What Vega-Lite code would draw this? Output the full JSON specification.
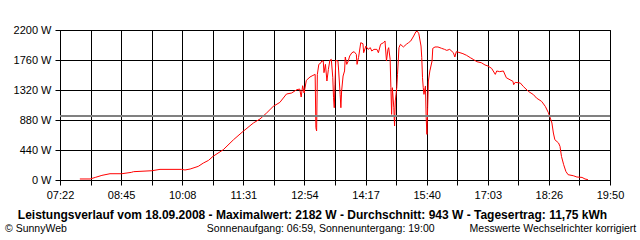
{
  "$schema": "https://vega.github.io/schema/vega-lite/v6.json",
  "width": 550,
  "height": 150,
  "autosize": "none",
  "padding": {"left": 60, "top": 30, "right": 30, "bottom": 60},
  "background": "white",
  "config": {
    "view": {"stroke": "black", "strokeWidth": 1},
    "font": "Liberation Sans",
    "axis": {
      "labelFont": "Liberation Sans",
      "labelFontSize": 11,
      "labelColor": "black",
      "gridColor": "black",
      "gridOpacity": 1,
      "gridWidth": 1,
      "domainColor": "black",
      "tickColor": "black",
      "tickSize": 5,
      "labelFlush": false,
      "labelBound": false,
      "labelOverlap": false
    }
  },
  "title": {
    "text": "© SunnyWeb\u00a0\u00a0\u00a0\u00a0\u00a0\u00a0\u00a0\u00a0\u00a0\u00a0\u00a0\u00a0\u00a0\u00a0\u00a0\u00a0\u00a0\u00a0\u00a0\u00a0\u00a0\u00a0\u00a0\u00a0\u00a0\u00a0\u00a0\u00a0\u00a0\u00a0\u00a0\u00a0\u00a0\u00a0\u00a0\u00a0\u00a0\u00a0\u00a0\u00a0\u00a0\u00a0\u00a0\u00a0\u00a0\u00a0\u00a0\u00a0Sonnenaufgang: 06:59, Sonnenuntergang: 19:00\u00a0\u00a0\u00a0\u00a0\u00a0\u00a0\u00a0\u00a0\u00a0\u00a0\u00a0\u00a0Messwerte Wechselrichter korrigiert",
    "orient": "bottom",
    "anchor": "start",
    "frame": "group",
    "dx": -55,
    "offset": 4,
    "font": "Liberation Sans",
    "fontSize": 10.5,
    "fontWeight": "normal",
    "color": "black"
  },
  "data": {
    "values": [
      {"t": "2008-09-18T07:49", "w": 15},
      {"t": "2008-09-18T08:03", "w": 15},
      {"t": "2008-09-18T08:10", "w": 38},
      {"t": "2008-09-18T08:19", "w": 68},
      {"t": "2008-09-18T08:30", "w": 92},
      {"t": "2008-09-18T08:46", "w": 92},
      {"t": "2008-09-18T08:59", "w": 112},
      {"t": "2008-09-18T09:02", "w": 122},
      {"t": "2008-09-18T09:27", "w": 136},
      {"t": "2008-09-18T09:38", "w": 156},
      {"t": "2008-09-18T10:07", "w": 156},
      {"t": "2008-09-18T10:12", "w": 147},
      {"t": "2008-09-18T10:19", "w": 161},
      {"t": "2008-09-18T10:30", "w": 200},
      {"t": "2008-09-18T10:37", "w": 249},
      {"t": "2008-09-18T10:44", "w": 288},
      {"t": "2008-09-18T10:50", "w": 346},
      {"t": "2008-09-18T11:04", "w": 444},
      {"t": "2008-09-18T11:18", "w": 591},
      {"t": "2008-09-18T11:31", "w": 713},
      {"t": "2008-09-18T11:45", "w": 836},
      {"t": "2008-09-18T11:54", "w": 895},
      {"t": "2008-09-18T12:03", "w": 983},
      {"t": "2008-09-18T12:12", "w": 1080},
      {"t": "2008-09-18T12:21", "w": 1138},
      {"t": "2008-09-18T12:30", "w": 1261},
      {"t": "2008-09-18T12:37", "w": 1276},
      {"t": "2008-09-18T12:44", "w": 1324},
      {"t": "2008-09-18T12:48", "w": 1334},
      {"t": "2008-09-18T12:50", "w": 1217},
      {"t": "2008-09-18T12:52", "w": 1383},
      {"t": "2008-09-18T12:54", "w": 1276},
      {"t": "2008-09-18T12:57", "w": 1461},
      {"t": "2008-09-18T13:02", "w": 1511},
      {"t": "2008-09-18T13:06", "w": 1534},
      {"t": "2008-09-18T13:09", "w": 1549},
      {"t": "2008-09-18T13:10", "w": 767},
      {"t": "2008-09-18T13:11", "w": 719},
      {"t": "2008-09-18T13:12", "w": 1549},
      {"t": "2008-09-18T13:14", "w": 1696},
      {"t": "2008-09-18T13:17", "w": 1720},
      {"t": "2008-09-18T13:18", "w": 1745},
      {"t": "2008-09-18T13:20", "w": 1745},
      {"t": "2008-09-18T13:21", "w": 1574},
      {"t": "2008-09-18T13:23", "w": 1696},
      {"t": "2008-09-18T13:25", "w": 1452},
      {"t": "2008-09-18T13:27", "w": 1622},
      {"t": "2008-09-18T13:29", "w": 1755},
      {"t": "2008-09-18T13:31", "w": 1769},
      {"t": "2008-09-18T13:33", "w": 1500},
      {"t": "2008-09-18T13:34", "w": 1207},
      {"t": "2008-09-18T13:35", "w": 1060},
      {"t": "2008-09-18T13:36", "w": 1402},
      {"t": "2008-09-18T13:37", "w": 1755},
      {"t": "2008-09-18T13:40", "w": 1745},
      {"t": "2008-09-18T13:41", "w": 1599},
      {"t": "2008-09-18T13:43", "w": 1256},
      {"t": "2008-09-18T13:44", "w": 1060},
      {"t": "2008-09-18T13:45", "w": 1305},
      {"t": "2008-09-18T13:47", "w": 1525},
      {"t": "2008-09-18T13:49", "w": 1599},
      {"t": "2008-09-18T13:50", "w": 1804},
      {"t": "2008-09-18T13:52", "w": 1696},
      {"t": "2008-09-18T13:54", "w": 1745},
      {"t": "2008-09-18T13:56", "w": 1819},
      {"t": "2008-09-18T13:59", "w": 1867},
      {"t": "2008-09-18T14:02", "w": 1882},
      {"t": "2008-09-18T14:05", "w": 1843},
      {"t": "2008-09-18T14:06", "w": 1696},
      {"t": "2008-09-18T14:08", "w": 1794},
      {"t": "2008-09-18T14:11", "w": 2014},
      {"t": "2008-09-18T14:14", "w": 1999},
      {"t": "2008-09-18T14:15", "w": 1867},
      {"t": "2008-09-18T14:18", "w": 1965},
      {"t": "2008-09-18T14:21", "w": 1916},
      {"t": "2008-09-18T14:24", "w": 1941},
      {"t": "2008-09-18T14:26", "w": 1892},
      {"t": "2008-09-18T14:29", "w": 1916},
      {"t": "2008-09-18T14:33", "w": 1916},
      {"t": "2008-09-18T14:35", "w": 1867},
      {"t": "2008-09-18T14:38", "w": 1990},
      {"t": "2008-09-18T14:42", "w": 2014},
      {"t": "2008-09-18T14:44", "w": 2039},
      {"t": "2008-09-18T14:46", "w": 1745},
      {"t": "2008-09-18T14:48", "w": 1916},
      {"t": "2008-09-18T14:49", "w": 1941},
      {"t": "2008-09-18T14:51", "w": 1769},
      {"t": "2008-09-18T14:52", "w": 1354},
      {"t": "2008-09-18T14:53", "w": 962},
      {"t": "2008-09-18T14:54", "w": 1354},
      {"t": "2008-09-18T14:56", "w": 1060},
      {"t": "2008-09-18T14:57", "w": 792},
      {"t": "2008-09-18T14:58", "w": 1159},
      {"t": "2008-09-18T14:59", "w": 1256},
      {"t": "2008-09-18T15:00", "w": 1354},
      {"t": "2008-09-18T15:01", "w": 1549},
      {"t": "2008-09-18T15:03", "w": 1941},
      {"t": "2008-09-18T15:05", "w": 1990},
      {"t": "2008-09-18T15:09", "w": 1951},
      {"t": "2008-09-18T15:13", "w": 1990},
      {"t": "2008-09-18T15:16", "w": 2014},
      {"t": "2008-09-18T15:19", "w": 2039},
      {"t": "2008-09-18T15:23", "w": 2112},
      {"t": "2008-09-18T15:26", "w": 2175},
      {"t": "2008-09-18T15:28", "w": 2182},
      {"t": "2008-09-18T15:30", "w": 2146},
      {"t": "2008-09-18T15:33", "w": 1965},
      {"t": "2008-09-18T15:34", "w": 1794},
      {"t": "2008-09-18T15:35", "w": 1500},
      {"t": "2008-09-18T15:36", "w": 1354},
      {"t": "2008-09-18T15:37", "w": 1256},
      {"t": "2008-09-18T15:39", "w": 1379},
      {"t": "2008-09-18T15:40", "w": 914},
      {"t": "2008-09-18T15:41", "w": 669},
      {"t": "2008-09-18T15:42", "w": 1060},
      {"t": "2008-09-18T15:43", "w": 1452},
      {"t": "2008-09-18T15:45", "w": 1599},
      {"t": "2008-09-18T15:48", "w": 1745},
      {"t": "2008-09-18T15:49", "w": 1931},
      {"t": "2008-09-18T15:52", "w": 1951},
      {"t": "2008-09-18T15:56", "w": 1951},
      {"t": "2008-09-18T16:01", "w": 1931},
      {"t": "2008-09-18T16:05", "w": 1916},
      {"t": "2008-09-18T16:08", "w": 1901},
      {"t": "2008-09-18T16:12", "w": 1916},
      {"t": "2008-09-18T16:17", "w": 1867},
      {"t": "2008-09-18T16:19", "w": 1804},
      {"t": "2008-09-18T16:21", "w": 1882},
      {"t": "2008-09-18T16:26", "w": 1867},
      {"t": "2008-09-18T16:30", "w": 1853},
      {"t": "2008-09-18T16:35", "w": 1828},
      {"t": "2008-09-18T16:40", "w": 1794},
      {"t": "2008-09-18T16:44", "w": 1769},
      {"t": "2008-09-18T16:49", "w": 1735},
      {"t": "2008-09-18T16:55", "w": 1720},
      {"t": "2008-09-18T17:00", "w": 1687},
      {"t": "2008-09-18T17:04", "w": 1672},
      {"t": "2008-09-18T17:09", "w": 1637},
      {"t": "2008-09-18T17:14", "w": 1549},
      {"t": "2008-09-18T17:16", "w": 1599},
      {"t": "2008-09-18T17:20", "w": 1589},
      {"t": "2008-09-18T17:25", "w": 1599},
      {"t": "2008-09-18T17:29", "w": 1500},
      {"t": "2008-09-18T17:34", "w": 1470},
      {"t": "2008-09-18T17:38", "w": 1447},
      {"t": "2008-09-18T17:39", "w": 1398},
      {"t": "2008-09-18T17:41", "w": 1432},
      {"t": "2008-09-18T17:48", "w": 1423},
      {"t": "2008-09-18T17:52", "w": 1373},
      {"t": "2008-09-18T17:59", "w": 1300},
      {"t": "2008-09-18T18:06", "w": 1251},
      {"t": "2008-09-18T18:10", "w": 1202},
      {"t": "2008-09-18T18:17", "w": 1153},
      {"t": "2008-09-18T18:22", "w": 1080},
      {"t": "2008-09-18T18:26", "w": 992},
      {"t": "2008-09-18T18:28", "w": 933},
      {"t": "2008-09-18T18:31", "w": 836},
      {"t": "2008-09-18T18:33", "w": 689},
      {"t": "2008-09-18T18:35", "w": 591},
      {"t": "2008-09-18T18:40", "w": 543},
      {"t": "2008-09-18T18:42", "w": 493},
      {"t": "2008-09-18T18:44", "w": 346},
      {"t": "2008-09-18T18:47", "w": 224},
      {"t": "2008-09-18T18:50", "w": 126},
      {"t": "2008-09-18T18:53", "w": 78},
      {"t": "2008-09-18T19:00", "w": 63},
      {"t": "2008-09-18T19:05", "w": 44},
      {"t": "2008-09-18T19:12", "w": 38},
      {"t": "2008-09-18T19:16", "w": 15},
      {"t": "2008-09-18T19:20", "w": 5}
    ]
  },
  "layer": [
    {
      "mark": {"type": "line", "color": "#ff0000", "strokeWidth": 1, "clip": true},
      "encoding": {
        "x": {
          "field": "t",
          "type": "temporal",
          "scale": {
            "domain": [
              {"year": 2008, "month": 9, "date": 18, "hours": 7, "minutes": 22},
              {"year": 2008, "month": 9, "date": 18, "hours": 19, "minutes": 50}
            ]
          },
          "axis": {
            "values": [
              {"year": 2008, "month": 9, "date": 18, "hours": 7, "minutes": 22, "seconds": 0},
              {"year": 2008, "month": 9, "date": 18, "hours": 8, "minutes": 3, "seconds": 33},
              {"year": 2008, "month": 9, "date": 18, "hours": 8, "minutes": 45, "seconds": 7},
              {"year": 2008, "month": 9, "date": 18, "hours": 9, "minutes": 26, "seconds": 40},
              {"year": 2008, "month": 9, "date": 18, "hours": 10, "minutes": 8, "seconds": 13},
              {"year": 2008, "month": 9, "date": 18, "hours": 10, "minutes": 49, "seconds": 47},
              {"year": 2008, "month": 9, "date": 18, "hours": 11, "minutes": 31, "seconds": 20},
              {"year": 2008, "month": 9, "date": 18, "hours": 12, "minutes": 12, "seconds": 53},
              {"year": 2008, "month": 9, "date": 18, "hours": 12, "minutes": 54, "seconds": 27},
              {"year": 2008, "month": 9, "date": 18, "hours": 13, "minutes": 36, "seconds": 0},
              {"year": 2008, "month": 9, "date": 18, "hours": 14, "minutes": 17, "seconds": 33},
              {"year": 2008, "month": 9, "date": 18, "hours": 14, "minutes": 59, "seconds": 7},
              {"year": 2008, "month": 9, "date": 18, "hours": 15, "minutes": 40, "seconds": 40},
              {"year": 2008, "month": 9, "date": 18, "hours": 16, "minutes": 22, "seconds": 13},
              {"year": 2008, "month": 9, "date": 18, "hours": 17, "minutes": 3, "seconds": 47},
              {"year": 2008, "month": 9, "date": 18, "hours": 17, "minutes": 45, "seconds": 20},
              {"year": 2008, "month": 9, "date": 18, "hours": 18, "minutes": 26, "seconds": 53},
              {"year": 2008, "month": 9, "date": 18, "hours": 19, "minutes": 8, "seconds": 27},
              {"year": 2008, "month": 9, "date": 18, "hours": 19, "minutes": 50, "seconds": 0}
            ],
            "labelExpr": "indexof(['07:22','08:45','10:08','11:31','12:54','14:17','15:40','17:03','18:26','19:50'], timeFormat(datum.value, '%H:%M')) >= 0 ? timeFormat(datum.value, '%H:%M') : ''",
            "labelPadding": 4,
            "labelAlign": "center",
            "labelOverlap": false,
            "grid": true,
            "title": "Leistungsverlauf vom 18.09.2008 - Maximalwert: 2182 W - Durchschnitt: 943 W - Tagesertrag: 11,75 kWh",
            "titleFont": "Liberation Sans",
            "titleFontSize": 12,
            "titleFontWeight": "bold",
            "titleColor": "black",
            "titlePadding": 9,
            "titleX": 252,
            "titleAlign": "center"
          }
        },
        "y": {
          "field": "w",
          "type": "quantitative",
          "scale": {"domain": [0, 2200], "nice": false, "zero": true},
          "axis": {
            "values": [0, 440, 880, 1320, 1760, 2200],
            "tickCount": 12,
            "labelExpr": "datum.value + ' W'",
            "labelPadding": 4,
            "labelOverlap": false,
            "grid": true,
            "title": null
          }
        }
      }
    },
    {
      "mark": {"type": "rule", "color": "#808080", "strokeWidth": 1},
      "encoding": {"y": {"datum": 943}}
    }
  ]
}
